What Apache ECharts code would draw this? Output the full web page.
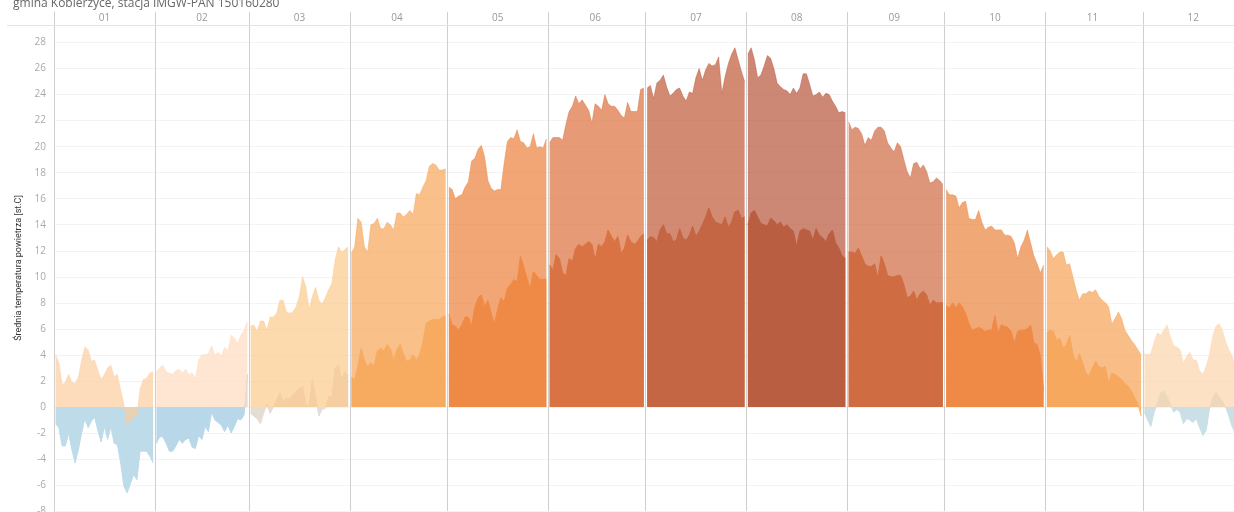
<!DOCTYPE html>
<html>
<head>
<meta charset="utf-8">
<title>Średnia temperatura powietrza</title>
<script src="https://cdn.jsdelivr.net/npm/echarts@6/dist/echarts.min.js"></script>
<style>
  html, body { margin: 0; padding: 0; background: #fff; }
  #chart { width: 1234px; height: 512px; }
</style>
</head>
<body>
<div id="chart"></div>
<script>
var titleText = 'gmina Kobierzyce, stacja IMGW-PAN 150160280';
var axisName = 'Średnia temperatura powietrza [st.C]';
var monthNames = ['01', '02', '03', '04', '05', '06', '07', '08', '09', '10', '11', '12'];
var yTicks = { min: -8, max: 29.35, step: 2 };

// górna seria (dzienne wartości w każdym miesiącu)
var upperJan = [4.0,3.4,1.7,1.9,2.5,1.9,1.8,2.3,3.6,4.6,4.4,3.5,3.6,2.8,2.1,2.5,3.0,3.2,2.3,2.5,1.3,0.2,-1.4,-1.0,-0.8,-0.6,1.4,2.1,2.2,2.6,2.7];
var upperFeb = [2.7,3.0,3.2,2.7,2.6,2.5,2.8,2.9,2.6,2.9,2.5,2.6,2.2,3.6,4.0,4.0,4.1,4.7,4.0,4.2,3.9,4.6,4.3,5.5,5.3,4.9,5.5,5.9,6.6];
var upperMar = [6.2,6.3,5.8,6.6,6.6,5.9,6.9,6.9,7.2,8.2,8.2,7.3,7.2,7.3,7.7,8.5,10.0,9.2,7.5,8.5,9.2,8.2,7.9,8.4,9.0,9.5,11.3,12.3,11.9,12.1,12.3];
var upperApr = [11.8,12.3,14.5,14.2,12.3,11.9,14.0,14.1,14.5,13.7,13.7,14.2,14.0,13.6,14.9,14.9,14.6,14.8,15.1,14.8,16.4,16.3,16.9,17.4,18.5,18.7,18.6,18.2,18.2,18.3];
var upperMay = [16.9,16.7,16.0,16.2,16.3,16.9,17.3,18.9,19.1,19.8,20.1,19.2,17.4,16.8,16.6,16.7,16.7,18.7,20.4,20.7,20.6,21.3,20.4,20.3,19.9,20.0,21.0,19.9,20.0,19.9,20.6];
var upperJun = [20.3,20.7,20.7,20.7,20.5,21.7,22.7,23.1,23.9,23.3,23.6,23.2,22.8,21.8,23.3,23.1,22.8,24.0,23.3,23.1,23.1,22.8,22.4,22.2,23.4,22.7,22.7,22.7,24.4,24.5];
var upperJul = [24.5,24.7,23.7,24.9,25.1,25.5,24.6,23.9,24.1,24.4,24.5,23.9,23.5,24.2,24.1,25.3,26.0,25.1,25.9,26.4,26.2,26.3,26.9,24.1,25.4,26.4,27.1,27.6,26.7,25.8,25.0];
var upperAug = [27.1,27.6,26.7,25.3,25.5,26.2,27.0,26.8,26.0,24.9,24.6,24.4,24.3,24.0,24.5,24.1,24.5,25.6,25.6,24.8,23.9,24.0,24.2,23.8,24.1,24.0,23.5,23.1,22.6,22.7,22.6];
var upperSep = [21.9,21.3,21.5,21.4,21.0,20.1,20.7,20.5,21.2,21.5,21.5,21.2,20.3,19.9,19.6,20.3,20.0,19.0,18.1,17.6,18.7,18.8,18.3,18.6,18.1,17.2,17.3,17.6,17.4,17.1];
var upperOct = [16.7,16.3,16.3,16.2,15.3,15.7,15.8,14.5,14.4,14.4,15.1,14.2,13.6,13.8,13.9,13.6,13.6,13.6,13.2,13.2,13.1,12.6,11.4,12.3,12.8,13.6,12.6,11.6,11.0,10.3,10.9];
var upperNov = [12.3,12.0,11.4,11.7,11.9,11.9,10.9,11.0,10.0,9.0,8.2,8.7,8.7,8.9,8.8,9.0,8.5,8.2,8.0,7.7,6.4,6.8,7.3,6.8,5.9,5.5,5.1,4.8,4.4,4.0];
var upperDec = [4.1,4.0,4.1,5.0,5.7,5.5,5.9,6.3,5.4,4.7,4.6,4.4,3.4,3.9,4.2,3.6,3.6,2.8,2.5,3.1,4.0,5.4,6.2,6.4,5.9,5.0,4.4,3.9,3.2,2.6,2.2];

// dolna seria
var lowerJan = [-1.3,-1.6,-3.0,-3.0,-2.0,-3.3,-4.3,-3.3,-2.0,-0.9,-1.6,-1.1,-0.8,-1.8,-2.7,-1.5,-2.5,-1.5,-2.8,-2.9,-4.3,-6.1,-6.6,-5.9,-5.2,-5.6,-3.4,-3.4,-3.4,-3.8,-4.3];
var lowerFeb = [-2.8,-2.3,-2.3,-2.8,-3.4,-3.4,-3.0,-2.5,-2.8,-2.5,-2.4,-3.1,-3.2,-2.2,-2.5,-1.5,-1.9,-0.4,-1.0,-1.2,-1.4,-1.9,-1.4,-2.0,-1.5,-0.9,-1.0,-0.6,2.5];
var lowerMar = [-0.5,-0.7,-0.9,-1.3,-0.5,0.2,-0.5,0.0,0.5,1.1,0.4,0.7,0.6,0.9,1.2,1.4,1.6,0.2,0.1,2.1,0.8,-0.7,-0.2,-0.1,0.8,0.7,3.0,3.2,2.1,2.7,2.4];
var lowerApr = [2.3,2.1,3.1,4.5,3.6,3.1,3.4,3.1,4.3,4.5,4.3,4.8,4.5,3.6,4.4,4.8,4.1,3.5,3.6,4.0,3.6,4.0,5.0,6.4,6.6,6.7,6.7,6.7,6.9,7.0];
var lowerMay = [7.1,6.3,6.2,5.9,6.3,6.9,6.9,6.2,7.7,8.4,8.6,7.7,8.2,7.2,6.4,7.5,8.4,8.1,9.1,9.4,9.8,9.6,11.6,10.8,9.9,9.1,10.4,10.1,9.8,9.8,9.8];
var lowerJun = [10.9,10.5,11.7,11.4,10.3,10.1,11.4,11.2,12.2,12.5,12.3,12.5,12.7,12.5,11.3,12.5,12.3,12.7,13.6,13.1,12.7,13.1,11.8,12.2,13.2,12.7,12.5,12.7,13.1,13.3];
var lowerJul = [12.8,13.1,13.0,12.7,13.6,14.0,13.3,13.3,12.7,12.8,13.7,13.0,12.8,13.2,13.9,13.1,13.5,14.0,14.6,15.3,14.6,14.2,14.1,14.0,14.6,13.8,14.2,15.0,15.1,14.5,14.6];
var lowerAug = [14.0,14.9,15.1,14.6,14.1,14.0,13.9,14.5,14.3,14.0,14.2,13.8,14.0,13.7,13.5,12.3,13.5,13.7,13.6,13.5,12.8,13.7,13.2,13.0,12.7,13.3,13.6,12.6,12.2,11.6,11.4];
var lowerSep = [11.9,11.9,11.8,12.2,11.6,11.0,10.8,10.8,11.0,9.9,11.6,11.0,10.1,10.0,10.0,10.1,10.1,9.4,8.4,8.5,8.9,8.2,8.7,8.9,8.6,7.8,8.2,8.0,8.0,8.0];
var lowerOct = [7.8,7.6,8.0,7.6,8.0,7.7,7.2,6.4,5.9,6.0,6.1,6.0,5.8,5.9,5.9,7.0,5.7,6.3,6.2,6.1,5.8,4.9,5.8,5.9,5.9,6.0,6.3,4.9,4.8,3.9,1.2];
var lowerNov = [5.7,5.9,5.8,5.1,5.3,4.5,4.8,5.5,4.1,3.4,4.1,3.4,2.6,2.4,3.0,3.5,3.1,3.0,3.1,1.8,2.6,2.5,2.3,2.1,1.8,1.6,1.2,0.7,0.2,-0.7];
var lowerDec = [-0.4,-1.0,-1.5,-0.4,0.3,1.1,1.2,0.8,0.2,-0.4,-0.2,-0.4,-1.3,-0.9,-1.0,-1.2,-0.9,-1.6,-2.2,-1.8,-0.2,0.7,1.1,0.8,0.4,0.0,-0.7,-1.5,-2.0,-1.8,-1.4];

var upperByMonth = [upperJan, upperFeb, upperMar, upperApr, upperMay, upperJun, upperJul, upperAug, upperSep, upperOct, upperNov, upperDec];
var lowerByMonth = [lowerJan, lowerFeb, lowerMar, lowerApr, lowerMay, lowerJun, lowerJul, lowerAug, lowerSep, lowerOct, lowerNov, lowerDec];

// kolory miesięcy (górna półprzezroczysta nad dolną)
var upperColors = ['#fccd9f', '#fedbbf', '#fcc98b', '#f6a559', '#ec803a', '#db6f3b', '#bf5938', '#b8553b', '#d06941', '#ea833d', '#f6a155', '#fcd4ab'];
var lowerColors = ['#bddbe9', '#b8d8ea', '#e3ddd4', '#f8b976', '#f5a262', '#d47d5c', '#d0845f', '#bc7352', '#cd7344', '#fc9b5c', '#f5b973', '#cadfe6'];

var chart = echarts.init(document.getElementById('chart'));

// indeksy dni i początki miesięcy
var dayKeys = [];
var monthStart = {};
var monthMid = {};
var startIdx = [];
var pos = 0;
upperByMonth.forEach(function (arr, m) {
    startIdx.push(pos);
    monthStart[pos] = true;
    monthMid[pos + Math.floor((arr.length - 1) / 2)] = monthNames[m];
    for (var d = 0; d < arr.length; d++) {
        dayKeys.push(String(pos + d));
    }
    pos += arr.length;
});

function toPairs(arr, start) {
    return arr.map(function (v, i) { return [start + i, v]; });
}

var series = [];
for (var m = 0; m < 12; m++) {
    series.push({
        type: 'line',
        xAxisIndex: 1,
        yAxisIndex: 1,
        data: toPairs(lowerByMonth[m], startIdx[m]),
        showSymbol: false,
        silent: true,
        z: 2,
        lineStyle: { width: 1, color: lowerColors[m] },
        areaStyle: { color: lowerColors[m], opacity: 1 }
    });
    series.push({
        type: 'line',
        xAxisIndex: 1,
        yAxisIndex: 1,
        data: toPairs(upperByMonth[m], startIdx[m]),
        showSymbol: false,
        silent: true,
        z: 3,
        lineStyle: { width: 1, color: upperColors[m], opacity: 0.45 },
        areaStyle: { color: upperColors[m], opacity: 0.7 }
    });
}

var option = {
    animation: false,
    title: {
        text: titleText,
        left: 8,
        top: -7,
        textStyle: { fontSize: 12, fontWeight: 'normal', color: '#666', fontFamily: 'Open Sans' }
    },
    graphic: [{
        type: 'line',
        shape: { x1: 7, y1: 25.5, x2: 1234, y2: 25.5 },
        style: { stroke: '#e4e4e4', lineWidth: 1 },
        z: 1
    }],
    grid: [
        { left: 54, width: 1189.5, top: 12, height: 13, outerBoundsMode: 'none' },
        { left: 54, width: 1189.5, top: 25, bottom: 1, outerBoundsMode: 'none' }
    ],
    xAxis: [{
        type: 'category',
        gridIndex: 0,
        data: dayKeys,
        boundaryGap: true,
        axisLine: { show: false },
        axisTick: { show: false },
        axisLabel: {
            inside: true,
            margin: 2,
            interval: function (idx) { return monthMid[idx] !== undefined; },
            formatter: function (val, idx) { return monthMid[idx] || ''; },
            color: '#999',
            fontSize: 10,
            fontFamily: 'Open Sans'
        },
        splitLine: {
            show: true,
            interval: function (idx) { return !!monthStart[idx]; },
            lineStyle: { color: '#cfcfcf', width: 1 }
        }
    }, {
        type: 'category',
        gridIndex: 1,
        data: dayKeys,
        boundaryGap: true,
        axisLine: { show: false },
        axisTick: { show: false },
        axisLabel: { show: false },
        splitLine: {
            show: true,
            interval: function (idx) { return !!monthStart[idx]; },
            lineStyle: { color: '#cfcfcf', width: 1 }
        }
    }],
    yAxis: [{
        type: 'value',
        gridIndex: 0,
        axisLine: { show: true, lineStyle: { color: '#cfcfcf' } },
        axisTick: { show: false },
        axisLabel: { show: false },
        splitLine: { show: false }
    }, {
        type: 'value',
        gridIndex: 1,
        min: yTicks.min,
        max: yTicks.max,
        interval: yTicks.step,
        name: axisName,
        nameLocation: 'middle',
        nameGap: 30,
        nameTextStyle: { fontSize: 9, color: '#333', fontFamily: 'Roboto' },
        axisLine: { show: true, lineStyle: { color: '#cfcfcf' } },
        axisTick: { show: false },
        axisLabel: {
            color: '#aaa',
            fontSize: 10,
            margin: 8,
            fontFamily: 'Open Sans',
            formatter: function (v) { return v % yTicks.step === 0 ? String(v) : ''; }
        },
        splitLine: { show: true, lineStyle: { color: '#f3f3f3' } }
    }],
    series: series
};

chart.setOption(option);
</script>
</body>
</html>
